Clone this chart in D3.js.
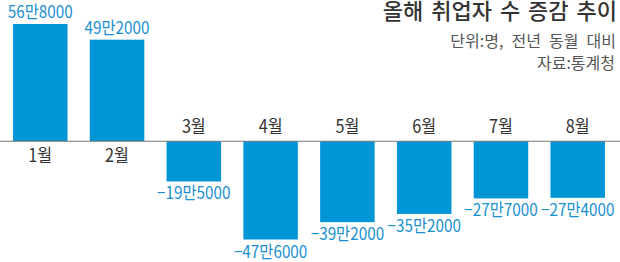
<!DOCTYPE html>
<html>
<head>
<meta charset="utf-8">
<script src="https://cdn.jsdelivr.net/npm/d3@7"></script>
<style>
  body { margin: 0; background: #fff; }
  svg { display: block; }
  .num { font-family: "Liberation Sans Narrow", "Noto Sans CJK KR", sans-serif; }
  .kr { font-family: "Noto Sans CJK KR", sans-serif; }
</style>
</head>
<body>
<div id="chart"></div>
<script>
// 올해 취업자 수 증감 (전년 동월 대비, 명)
const months = ["1월", "2월", "3월", "4월", "5월", "6월", "7월", "8월"]
const values = [568000, 492000, -195000, -476000, -392000, -352000, -277000, -274000]
const valueLabels = ["56만8000", "49만2000", "−19만5000", "−47만6000", "−39만2000", "−35만2000", "−27만7000", "−27만4000"]

const title = "올해 취업자 수 증감 추이"
const unitNote = "단위:명, 전년 동월 대비"
const sourceNote = "자료:통계청"

const width = 620, height = 262
const blue = "#0096d6"
const squeeze = 0.9   // labels are set in a condensed face

const svg = d3.select("#chart").append("svg")
    .attr("width", width)
    .attr("height", height)

const x = d3.scaleBand()
    .domain(months)
    .range([13, 605])
    .paddingInner(0.29)
    .paddingOuter(0)

const y = d3.scaleLinear()
    .domain([d3.min(values), d3.max(values)])
    .range([239.5, 24])

const data = months.map((m, i) => ({ month: m, value: values[i], label: valueLabels[i] }))
const cx = d => x(d.month) + x.bandwidth() / 2

// bars
svg.selectAll("rect.bar")
    .data(data)
    .enter()
    .append("rect")
    .attr("class", "bar")
    .attr("x", d => x(d.month))
    .attr("y", d => Math.min(y(d.value), y(0)))
    .attr("width", x.bandwidth())
    .attr("height", d => Math.abs(y(d.value) - y(0)))
    .attr("fill", blue)

// zero line
svg.append("line")
    .attr("x1", 0)
    .attr("x2", width)
    .attr("y1", y(0))
    .attr("y2", y(0))
    .attr("stroke", "#777")
    .attr("stroke-width", 1)

// value labels
svg.selectAll("text.value")
    .data(data)
    .enter()
    .append("text")
    .attr("class", "value num")
    .attr("transform", d => "translate(" + cx(d) + "," + (d.value >= 0 ? y(d.value) - 6 : y(d.value) + 18) + ") scale(" + squeeze + ",1)")
    .attr("text-anchor", "middle")
    .attr("font-size", "17px")
    .attr("fill", "#1a8fd0")
    .text(d => d.label)

// month labels: under the line for positive bars, above it for negative ones
svg.selectAll("text.month")
    .data(data)
    .enter()
    .append("text")
    .attr("class", "month num")
    .attr("transform", d => "translate(" + cx(d) + "," + (d.value >= 0 ? y(0) + 21 : y(0) - 8) + ") scale(" + squeeze + ",1)")
    .attr("text-anchor", "middle")
    .attr("font-size", "18px")
    .attr("fill", "#333")
    .text(d => d.month)

// title and notes
svg.append("text")
    .attr("class", "kr")
    .attr("x", 617)
    .attr("y", 19)
    .attr("text-anchor", "end")
    .attr("font-size", "22px")
    .attr("font-weight", 500)
    .attr("word-spacing", "3px")
    .attr("fill", "#333")
    .text(title)

svg.append("text")
    .attr("class", "kr")
    .attr("x", 616)
    .attr("y", 47)
    .attr("text-anchor", "end")
    .attr("font-size", "16px")
    .attr("word-spacing", "4.5px")
    .attr("fill", "#555")
    .text(unitNote)

svg.append("text")
    .attr("class", "kr")
    .attr("x", 615)
    .attr("y", 69)
    .attr("text-anchor", "end")
    .attr("font-size", "16px")
    .attr("fill", "#555")
    .text(sourceNote)
</script>
</body>
</html>
